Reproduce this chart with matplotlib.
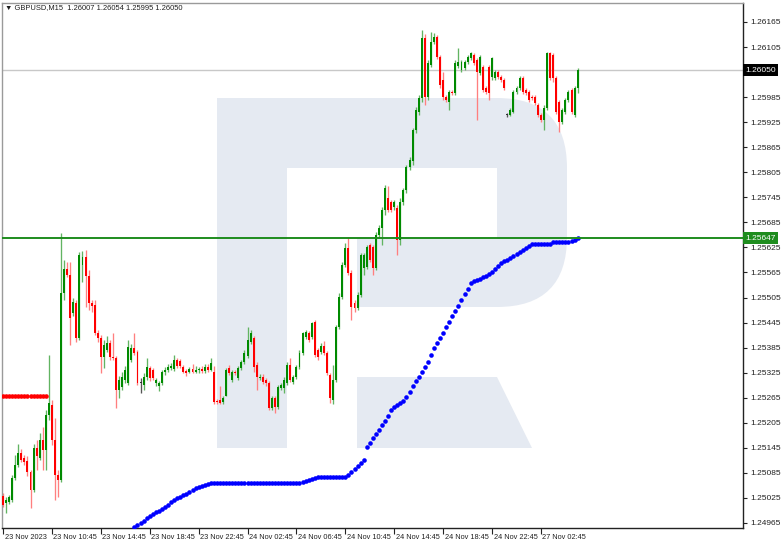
import matplotlib
matplotlib.use("Agg")
import matplotlib.pyplot as plt
from matplotlib.patches import Rectangle, Polygon, PathPatch
from matplotlib.path import Path
import matplotlib.transforms as mtransforms

# ---------------- data ----------------
symbol_line = "\u25BC GBPUSD,M15  1.26007 1.26054 1.25995 1.26050"

opens = [
    1.25030, 1.25013, 1.25015, 1.25020, 1.25073, 1.25104, 1.25133, 1.25121, 1.25114, 1.25087,
    1.25044, 1.25145, 1.25121, 1.25164, 1.25140, 1.25224, 1.25248, 1.25164, 1.25080, 1.25068,
    1.25516, 1.25573, 1.25559, 1.25468, 1.25492, 1.25408, 1.25583, 1.25602, 1.25557, 1.25492,
    1.25487, 1.25420, 1.25408, 1.25363, 1.25379, 1.25396, 1.25363, 1.25360, 1.25284, 1.25291,
    1.25308, 1.25301, 1.25355, 1.25384, 1.25374, 1.25301, 1.25296, 1.25315, 1.25336, 1.25332,
    1.25301, 1.25293, 1.25301, 1.25327, 1.25332, 1.25336, 1.25334, 1.25355, 1.25353, 1.25339,
    1.25329, 1.25327, 1.25334, 1.25327, 1.25332, 1.25334, 1.25329, 1.25339, 1.25332, 1.25327,
    1.25257, 1.25260, 1.25255, 1.25270, 1.25336, 1.25308, 1.25327, 1.25313, 1.25336, 1.25351,
    1.25365, 1.25399, 1.25408, 1.25344, 1.25313, 1.25315, 1.25308, 1.25301, 1.25241, 1.25265,
    1.25243, 1.25289, 1.25289, 1.25301, 1.25344, 1.25303, 1.25315, 1.25339, 1.25372, 1.25411,
    1.25420, 1.25411, 1.25446, 1.25379, 1.25374, 1.25389, 1.25372, 1.25320, 1.25260, 1.25308,
    1.25435, 1.25506, 1.25583, 1.25624, 1.25564, 1.25492, 1.25480, 1.25511, 1.25576, 1.25578,
    1.25631, 1.25626, 1.25576, 1.25655, 1.25672, 1.25715, 1.25744, 1.25734, 1.25722, 1.25720,
    1.25643, 1.25734, 1.25763, 1.25818, 1.25831, 1.25906, 1.25949, 1.25983, 1.26127, 1.25985,
    1.26062, 1.26117, 1.26129, 1.26081, 1.26026, 1.25985, 1.25973, 1.25997, 1.25995, 1.26060,
    1.26050, 1.26055, 1.26069, 1.26079, 1.26086, 1.26074, 1.26043, 1.26057, 1.26007, 1.26057,
    1.26033, 1.26031, 1.26045, 1.26033, 1.26026, 1.25942, 1.25942, 1.25949, 1.25997, 1.26007,
    1.26031, 1.26002, 1.25997, 1.25985, 1.25985, 1.25966, 1.25942, 1.25930, 1.25959, 1.26091,
    1.26086, 1.26031, 1.25973, 1.25925, 1.25949, 1.25978, 1.26002, 1.25942, 1.26007,
]

highs = [
    1.25037, 1.25027, 1.25032, 1.25080, 1.25128, 1.25154, 1.25142, 1.25128, 1.25126, 1.25092,
    1.25154, 1.25164, 1.25181, 1.25195, 1.25236, 1.25367, 1.25260, 1.25217, 1.25092, 1.25660,
    1.25595, 1.25590, 1.25590, 1.25504, 1.25499, 1.25614, 1.25616, 1.25619, 1.25571, 1.25499,
    1.25499, 1.25427, 1.25415, 1.25403, 1.25413, 1.25403, 1.25420, 1.25365, 1.25317, 1.25327,
    1.25341, 1.25403, 1.25394, 1.25420, 1.25379, 1.25313, 1.25324, 1.25360, 1.25341, 1.25336,
    1.25313, 1.25305, 1.25332, 1.25339, 1.25346, 1.25348, 1.25367, 1.25360, 1.25358, 1.25344,
    1.25334, 1.25339, 1.25346, 1.25341, 1.25339, 1.25341, 1.25346, 1.25346, 1.25360, 1.25341,
    1.25262, 1.25293, 1.25270, 1.25336, 1.25344, 1.25332, 1.25332, 1.25341, 1.25355, 1.25379,
    1.25435, 1.25427, 1.25413, 1.25351, 1.25322, 1.25322, 1.25313, 1.25305, 1.25270, 1.25270,
    1.25296, 1.25301, 1.25315, 1.25351, 1.25360, 1.25320, 1.25344, 1.25379, 1.25423, 1.25427,
    1.25425, 1.25446, 1.25451, 1.25384, 1.25396, 1.25401, 1.25377, 1.25324, 1.25344, 1.25440,
    1.25516, 1.25590, 1.25636, 1.25650, 1.25571, 1.25499, 1.25518, 1.25612, 1.25612, 1.25631,
    1.25636, 1.25631, 1.25662, 1.25679, 1.25722, 1.25775, 1.25773, 1.25739, 1.25739, 1.25727,
    1.25744, 1.25768, 1.25823, 1.25841, 1.25911, 1.25961, 1.25990, 1.26146, 1.26136, 1.26074,
    1.26141, 1.26139, 1.26134, 1.26086, 1.26045, 1.25990, 1.26002, 1.26002, 1.26074, 1.26103,
    1.26074, 1.26074, 1.26086, 1.26093, 1.26091, 1.26079, 1.26086, 1.26062, 1.26012, 1.26062,
    1.26081, 1.26050, 1.26050, 1.26038, 1.26031, 1.25947, 1.25959, 1.26002, 1.26012, 1.26036,
    1.26036, 1.26007, 1.26002, 1.25990, 1.25990, 1.25971, 1.25947, 1.25966, 1.26093, 1.26093,
    1.26091, 1.26036, 1.25978, 1.25959, 1.25983, 1.26002, 1.26007, 1.26012, 1.26054,
]

lows = [
    1.25003, 1.24989, 1.25010, 1.25015, 1.25068, 1.25099, 1.25111, 1.25104, 1.25078, 1.25001,
    1.25039, 1.25092, 1.25116, 1.25092, 1.25092, 1.25212, 1.25152, 1.25020, 1.25027, 1.25063,
    1.25499, 1.25554, 1.25391, 1.25461, 1.25399, 1.25403, 1.25542, 1.25482, 1.25475, 1.25470,
    1.25415, 1.25399, 1.25324, 1.25336, 1.25374, 1.25355, 1.25355, 1.25241, 1.25265, 1.25284,
    1.25301, 1.25296, 1.25351, 1.25367, 1.25296, 1.25277, 1.25284, 1.25308, 1.25305, 1.25308,
    1.25293, 1.25281, 1.25296, 1.25320, 1.25327, 1.25332, 1.25329, 1.25336, 1.25336, 1.25324,
    1.25317, 1.25324, 1.25324, 1.25324, 1.25324, 1.25324, 1.25324, 1.25327, 1.25329, 1.25250,
    1.25250, 1.25250, 1.25250, 1.25268, 1.25320, 1.25303, 1.25320, 1.25308, 1.25332, 1.25346,
    1.25360, 1.25394, 1.25327, 1.25284, 1.25308, 1.25298, 1.25293, 1.25236, 1.25236, 1.25229,
    1.25238, 1.25284, 1.25277, 1.25296, 1.25303, 1.25298, 1.25310, 1.25334, 1.25367, 1.25406,
    1.25399, 1.25406, 1.25363, 1.25355, 1.25370, 1.25367, 1.25320, 1.25253, 1.25250, 1.25303,
    1.25430, 1.25501, 1.25578, 1.25559, 1.25451, 1.25470, 1.25475, 1.25506, 1.25559, 1.25573,
    1.25590, 1.25559, 1.25571, 1.25648, 1.25631, 1.25703, 1.25710, 1.25710, 1.25715, 1.25607,
    1.25631, 1.25727, 1.25756, 1.25811, 1.25823, 1.25899, 1.25942, 1.25973, 1.25966, 1.25978,
    1.26057, 1.26112, 1.26076, 1.26007, 1.25978, 1.25973, 1.25954, 1.25990, 1.25990, 1.26055,
    1.26045, 1.26050, 1.26064, 1.26074, 1.26062, 1.25930, 1.26038, 1.25997, 1.25993, 1.25978,
    1.26026, 1.26026, 1.26028, 1.26021, 1.26002, 1.25937, 1.25940, 1.25947, 1.25993, 1.26002,
    1.25993, 1.25990, 1.25973, 1.25978, 1.25966, 1.25937, 1.25925, 1.25906, 1.25954, 1.26026,
    1.26021, 1.25944, 1.25901, 1.25920, 1.25944, 1.25973, 1.25944, 1.25937, 1.25995,
]

closes = [
    1.25008, 1.25020, 1.25027, 1.25073, 1.25104, 1.25133, 1.25116, 1.25111, 1.25087, 1.25044,
    1.25145, 1.25126, 1.25164, 1.25140, 1.25224, 1.25253, 1.25164, 1.25080, 1.25068, 1.25516,
    1.25573, 1.25559, 1.25456, 1.25494, 1.25408, 1.25607, 1.25602, 1.25557, 1.25492, 1.25485,
    1.25420, 1.25408, 1.25363, 1.25391, 1.25396, 1.25363, 1.25360, 1.25284, 1.25308, 1.25315,
    1.25332, 1.25387, 1.25384, 1.25372, 1.25301, 1.25301, 1.25315, 1.25339, 1.25313, 1.25313,
    1.25308, 1.25301, 1.25327, 1.25332, 1.25339, 1.25341, 1.25355, 1.25341, 1.25341, 1.25327,
    1.25324, 1.25334, 1.25327, 1.25332, 1.25334, 1.25329, 1.25339, 1.25332, 1.25348, 1.25255,
    1.25255, 1.25253, 1.25265, 1.25332, 1.25324, 1.25327, 1.25324, 1.25336, 1.25351, 1.25372,
    1.25403, 1.25420, 1.25339, 1.25315, 1.25315, 1.25303, 1.25301, 1.25241, 1.25265, 1.25243,
    1.25291, 1.25296, 1.25308, 1.25344, 1.25308, 1.25315, 1.25339, 1.25372, 1.25420, 1.25423,
    1.25403, 1.25444, 1.25367, 1.25363, 1.25389, 1.25372, 1.25324, 1.25265, 1.25308, 1.25435,
    1.25506, 1.25583, 1.25624, 1.25564, 1.25482, 1.25480, 1.25511, 1.25607, 1.25607, 1.25626,
    1.25595, 1.25576, 1.25655, 1.25672, 1.25715, 1.25768, 1.25715, 1.25715, 1.25734, 1.25643,
    1.25734, 1.25763, 1.25818, 1.25834, 1.25906, 1.25954, 1.25983, 1.26127, 1.25985, 1.26067,
    1.26117, 1.26129, 1.26081, 1.26014, 1.25985, 1.25978, 1.25997, 1.25995, 1.26067, 1.26069,
    1.26069, 1.26069, 1.26081, 1.26091, 1.26067, 1.26045, 1.26081, 1.26002, 1.25997, 1.25995,
    1.26079, 1.26045, 1.26033, 1.26026, 1.26007, 1.25942, 1.25954, 1.25997, 1.26007, 1.26031,
    1.25997, 1.25995, 1.25978, 1.25983, 1.25971, 1.25942, 1.25930, 1.25959, 1.26091, 1.26031,
    1.26031, 1.25949, 1.25925, 1.25954, 1.25978, 1.25997, 1.25949, 1.26007, 1.26050,
]

# indicator dots (blue), one per bar starting at bar 43
blue_start = 43
blue_values = [
    1.24955, 1.24960, 1.24965, 1.24970, 1.24977, 1.24982, 1.24987, 1.24991, 1.24994, 1.24999,
    1.25003, 1.25008, 1.25015, 1.25020, 1.25025, 1.25027, 1.25032, 1.25035, 1.25039, 1.25044,
    1.25049, 1.25051, 1.25054, 1.25056, 1.25058, 1.25061, 1.25061, 1.25061, 1.25061, 1.25061,
    1.25061, 1.25061, 1.25061, 1.25061, 1.25061, 1.25061, 1.25061, 1.25061, 1.25061, 1.25061,
    1.25061, 1.25061, 1.25061, 1.25061, 1.25061, 1.25061, 1.25061, 1.25061, 1.25061, 1.25061,
    1.25061, 1.25061, 1.25061, 1.25061, 1.25061, 1.25063, 1.25066, 1.25068, 1.25070, 1.25073,
    1.25075, 1.25075, 1.25075, 1.25075, 1.25075, 1.25075, 1.25075, 1.25075, 1.25075, 1.25075,
    1.25080, 1.25087, 1.25094, 1.25102, 1.25109, 1.25116, 1.25147, 1.25157, 1.25169, 1.25178,
    1.25188, 1.25200, 1.25209, 1.25221, 1.25236, 1.25243, 1.25248, 1.25252, 1.25257, 1.25267,
    1.25279, 1.25293, 1.25305, 1.25315, 1.25327, 1.25339, 1.25351, 1.25367, 1.25384, 1.25396,
    1.25408, 1.25420, 1.25434, 1.25446, 1.25461, 1.25473, 1.25485, 1.25499, 1.25514, 1.25526,
    1.25540, 1.25545, 1.25547, 1.25549, 1.25554, 1.25557, 1.25561, 1.25566, 1.25573, 1.25581,
    1.25588, 1.25593, 1.25595, 1.25600, 1.25605, 1.25609, 1.25614, 1.25619, 1.25624, 1.25628,
    1.25633, 1.25633, 1.25633, 1.25633, 1.25633, 1.25633, 1.25633, 1.25638, 1.25638, 1.25638,
    1.25638, 1.25638, 1.25638, 1.25640, 1.25643, 1.25647,
]

# red dotted level (bars 0..14)
red_values = [1.25269, 1.25269, 1.25269, 1.25269, 1.25269, 1.25269, 1.25269, 1.25269,
              1.25269, 1.25269, 1.25269, 1.25269, 1.25269, 1.25269, 1.25269]

current_price = 1.26050
level_price = 1.25647

price_ticks = [1.26165, 1.26105, 1.25985, 1.25925, 1.25865, 1.25805, 1.25745, 1.25685,
               1.25625, 1.25565, 1.25505, 1.25445, 1.25385, 1.25325, 1.25265, 1.25205,
               1.25145, 1.25085, 1.25025, 1.24965]

time_tick_bars = [0, 16, 32, 48, 64, 80, 96, 112, 128, 144, 160, 176]
time_labels = ["23 Nov 2023", "23 Nov 10:45", "23 Nov 14:45", "23 Nov 18:45",
               "23 Nov 22:45", "24 Nov 02:45", "24 Nov 06:45", "24 Nov 10:45",
               "24 Nov 14:45", "24 Nov 18:45", "24 Nov 22:45", "27 Nov 02:45"]

# ---------------- figure ----------------
FONT = ["Liberation Sans", "DejaVu Sans"]
plt.rcParams["font.family"] = FONT

W, H = 782, 544
fig = plt.figure(figsize=(W / 100, H / 100), dpi=100)
fig.patch.set_facecolor("white")

# watermark layer (pixel coordinates of the figure)
bg = fig.add_axes([0, 0, 1, 1], zorder=0)
bg.set_xlim(0, W)
bg.set_ylim(H, 0)
bg.axis("off")
wm = "#e5eaf2"
bg.add_patch(Rectangle((217, 98), 70, 350, facecolor=wm, edgecolor="none"))
bg.add_patch(Rectangle((286, 98), 212, 70, facecolor=wm, edgecolor="none"))
bg.add_patch(Rectangle((357, 239), 141, 68, facecolor=wm, edgecolor="none"))
r = 70
verts = [(497, 98), (497 + r, 98), (497 + r, 98 + r), (567, 307 - r),
         (567, 307), (497, 307), (497, 98)]
codes = [Path.MOVETO, Path.CURVE3, Path.CURVE3, Path.LINETO,
         Path.CURVE3, Path.CURVE3, Path.CLOSEPOLY]
bg.add_patch(PathPatch(Path(verts, codes), facecolor=wm, edgecolor="none"))
bg.add_patch(Polygon([(357, 377), (497, 377), (532, 448), (357, 448)],
                     closed=True, facecolor=wm, edgecolor="none"))

# main chart
ax = fig.add_axes([2 / W, 16 / H, 741 / W, 525 / H], zorder=1)
ax.patch.set_alpha(0)
ax.set_xlim(-0.33, 242.1)
ax.set_ylim(1.24953, 1.262105)

ax.axhline(current_price, color="#c8c8c8", lw=1.0, zorder=1)

bull = "#008a00"
bear = "#ff0000"
n = len(closes)
xs = list(range(n))
body_colors, wick_colors, bottoms, heights = [], [], [], []
for o, c in zip(opens, closes):
    if c > o:
        body_colors.append(bull); wick_colors.append("#62b462")
    elif c < o:
        body_colors.append(bear); wick_colors.append("#ff7f7f")
    else:
        body_colors.append("#333333"); wick_colors.append("#555555")
    bottoms.append(min(o, c))
    heights.append(max(abs(c - o), 0.000028))

ax.vlines(xs, lows, highs, colors=wick_colors, linewidth=0.95, zorder=2)
ax.bar(xs, heights, bottom=bottoms, width=0.64, color=body_colors,
       linewidth=0, zorder=3)

# dots
ax.plot(range(len(red_values)), red_values, "o", color="#ff0000", ms=3.3,
        mec="none", zorder=4)
bx = list(range(blue_start, blue_start + len(blue_values)))
ax.plot(bx, blue_values, "o", color="#0000ff", ms=3.3, mec="none", zorder=4)

ax.axhline(level_price, color="#1e8c1e", lw=1.4, zorder=5)

# axes styling
for side in ["left", "top"]:
    ax.spines[side].set_color("#9a9a9a")
    ax.spines[side].set_linewidth(1.0)
for side in ["right", "bottom"]:
    ax.spines[side].set_color("#222222")
    ax.spines[side].set_linewidth(1.0)

ax.yaxis.tick_right()
ax.set_yticks(price_ticks)
ax.set_yticklabels([f"{v:.5f}" for v in price_ticks])
ax.tick_params(axis="y", direction="out", length=3, width=0.8, pad=2,
               labelsize=6.0, colors="#222222")

ax.set_xticks(time_tick_bars)
ax.set_xticklabels(time_labels)
ax.tick_params(axis="x", direction="out", length=4, width=0.8, pad=0.5,
               labelsize=5.3, colors="#222222")
offset = mtransforms.ScaledTranslation(1.5 / 100, 0, fig.dpi_scale_trans)
for lbl in ax.get_xticklabels():
    lbl.set_horizontalalignment("left")
    lbl.set_transform(lbl.get_transform() + offset)

# price boxes on the right axis
trans = mtransforms.blended_transform_factory(ax.transAxes, ax.transData)
ax.text(1.003, current_price, f"{current_price:.5f}", transform=trans,
        ha="left", va="center", fontsize=6.0, color="white", clip_on=False,
        bbox=dict(boxstyle="square,pad=0.3", fc="black", ec="none"), zorder=10)
ax.text(1.003, level_price, f"{level_price:.5f}", transform=trans,
        ha="left", va="center", fontsize=6.0, color="white", clip_on=False,
        bbox=dict(boxstyle="square,pad=0.3", fc="#1e8c1e", ec="none"), zorder=10)

# symbol header
fig.text(5 / W, 1 - 8 / H, symbol_line, fontsize=5.4, color="#1e1e1e",
         ha="left", va="center", family=FONT)

fig.savefig("out.png", dpi=100, facecolor="white")
